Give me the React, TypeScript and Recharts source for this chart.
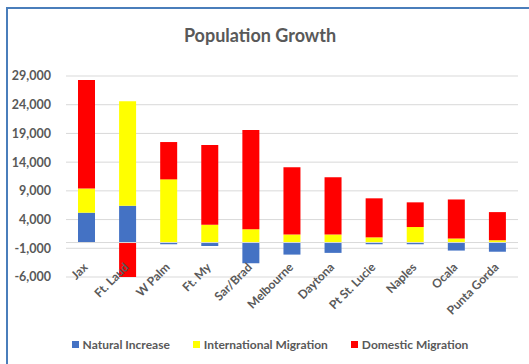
import React from 'react';
import { BarChart, Bar, XAxis, YAxis, CartesianGrid, Legend, ReferenceLine } from 'recharts';

const categories = ['Jax', 'Ft. Laud', 'W Palm', 'Ft. My', 'Sar/Brad', 'Melbourne', 'Daytona', 'Pt St. Lucie', 'Naples', 'Ocala', 'Punta Gorda'];
const naturalIncrease = [5200, 6400, -300, -600, -3600, -2100, -1800, -300, -300, -1400, -1600];
const internationalMigration = [4200, 18200, 11000, 3100, 2300, 1400, 1400, 900, 2700, 700, 400];
const domesticMigration = [18900, -6000, 6500, 13900, 17300, 11700, 9950, 6800, 4300, 6800, 4900];
const yTicks = [-6000, -1000, 4000, 9000, 14000, 19000, 24000, 29000];

const seriesInfo = [
  { key: 'natural', name: 'Natural Increase', color: '#4472C4' },
  { key: 'international', name: 'International Migration', color: '#FFFF00' },
  { key: 'domestic', name: 'Domestic Migration', color: '#FF0000' },
];

const data = categories.map((name, i) => ({
  name,
  natural: naturalIncrease[i],
  international: internationalMigration[i],
  domestic: domesticMigration[i],
}));

const FONT = 'Lato, "Open Sans", sans-serif';
const TEXT = '#595959';

const CategoryTick = (props: any) => {
  const { x, y, payload } = props;
  return (
    <g transform={`translate(${x + 2},${y - 17})`}>
      <text transform="rotate(-45)" textAnchor="end" fill={TEXT} fontFamily={FONT} fontWeight={700} fontSize={12}>
        {payload.value}
      </text>
    </g>
  );
};

const LegendContent = () => (
  <div style={{ display: 'flex', justifyContent: 'center', paddingLeft: 22, fontFamily: FONT, fontWeight: 700, fontSize: 12, color: TEXT }}>
    {seriesInfo.map((s, i) => (
      <div key={s.key} style={{ display: 'flex', alignItems: 'center', marginLeft: i === 0 ? 0 : 23 }}>
        <span style={{ display: 'inline-block', width: 7, height: 7, background: s.color, marginRight: 4 }} />
        <span>{s.name}</span>
      </div>
    ))}
  </div>
);

export default function App() {
  return (
    <div style={{ position: 'absolute', left: 0, top: 0, width: 529, height: 364, overflow: 'hidden', background: '#fff' }}>
      <div style={{ position: 'absolute', left: 6, top: 7, width: 700, height: 500, borderLeft: '2px solid #4A7EBB', borderTop: '2px solid #4A7EBB' }} />
      <div style={{ position: 'absolute', left: 0, top: 24, width: 520, textAlign: 'center', fontFamily: FONT, fontWeight: 700, fontSize: 18, color: TEXT }}>
        Population Growth
      </div>
      <div style={{ position: 'absolute', left: 0, top: 0 }}>
        <BarChart width={529} height={364} data={data} stackOffset="sign" margin={{ top: 76, right: 11, left: 0, bottom: 0 }} barSize={17}>
          <CartesianGrid vertical={false} stroke="#D9D9D9" />
          <XAxis dataKey="name" axisLine={false} tickLine={false} interval={0} height={60} tick={<CategoryTick />} />
          <YAxis
            domain={[-6000, 29000]}
            ticks={yTicks}
            axisLine={false}
            tickLine={false}
            width={66}
            tickMargin={9}
            tickFormatter={(v: number) => v.toLocaleString('en-US')}
            tick={{ fill: TEXT, fontFamily: FONT, fontWeight: 700, fontSize: 12.5 }}
          />
          <ReferenceLine y={0} stroke="#D9D9D9" />
          {seriesInfo.map((s) => (
            <Bar key={s.key} dataKey={s.key} name={s.name} stackId="a" fill={s.color} isAnimationActive={false} />
          ))}
          <Legend verticalAlign="bottom" height={27} content={<LegendContent />} />
        </BarChart>
      </div>
    </div>
  );
}
